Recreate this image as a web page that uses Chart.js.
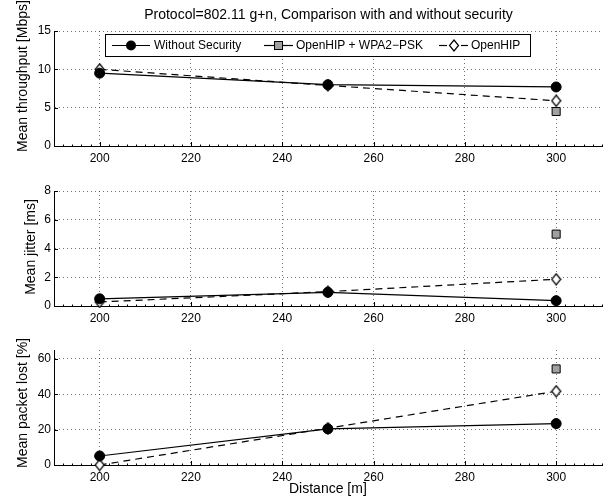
<!DOCTYPE html>
<html>
<head>
<meta charset="utf-8">
<script src="https://cdn.jsdelivr.net/npm/chart.js@4.4.0/dist/chart.umd.min.js"></script>
<style>
  body { margin: 0; background: #fff; width: 609px; height: 501px; overflow: hidden; position: relative;
         font-family: 'Liberation Sans', Arial, sans-serif; color: #000; }
  canvas { position: absolute; left: 0; }
  #title { position: absolute; left: 54px; width: 549px; top: 5px; text-align: center; font-size: 14px; line-height: 18px; }
  .ylab { position: absolute; font-size: 14px; line-height: 16px; white-space: nowrap;
          transform: translate(-50%, -50%) rotate(-90deg); }
  #legend { position: absolute; left: 105px; top: 34px; width: 426px; height: 23px; box-sizing: border-box;
            border: 1px solid #000; background: #fff; }
  #legend svg { position: absolute; left: -1px; top: -1px; }
  #legend span { position: absolute; top: 3px; font-size: 12px; line-height: 15px; white-space: nowrap; }
</style>
</head>
<body>
<canvas id="c1" width="609" height="165" style="top:0px"></canvas>
<canvas id="c2" width="609" height="165" style="top:160px"></canvas>
<canvas id="c3" width="609" height="182" style="top:319px"></canvas>
<div id="title">Protocol=802.11 g+n, Comparison with and without security</div>
<div class="ylab" style="left:22px; top:76px">Mean throughput [Mbps]</div>
<div class="ylab" style="left:30px; top:247px">Mean jitter [ms]</div>
<div class="ylab" style="left:22px; top:403px">Mean packet lost [%]</div>
<div id="legend">
  <svg width="426" height="23">
    <line x1="7" y1="11.5" x2="45" y2="11.5" stroke="#000" stroke-width="1.2"/>
    <circle cx="26" cy="11.5" r="5" fill="#000"/>
    <line x1="159" y1="11.5" x2="188" y2="11.5" stroke="#000" stroke-width="1.2"/>
    <rect x="169.5" y="7.5" width="8" height="8" fill="#a0a0a0" stroke="#000" stroke-width="1"/>
    <line x1="334" y1="11.5" x2="342" y2="11.5" stroke="#000" stroke-width="1.2"/>
    <line x1="356" y1="11.5" x2="363" y2="11.5" stroke="#000" stroke-width="1.2"/>
    <polygon points="349,6 353.5,11.5 349,17 344.5,11.5" fill="#fff" stroke="#000" stroke-width="1.2"/>
  </svg>
  <span style="left:48px">Without Security</span>
  <span style="left:190px">OpenHIP + WPA2−PSK</span>
  <span style="left:365px">OpenHIP</span>
</div>
<script>
// data
const distances = [200, 250, 300];
const xTicks = [200, 220, 240, 260, 280, 300];

const throughputWithout = [9.5, 8.0, 7.7];
const throughputWpa2 = [null, null, 4.5];
const throughputOpenhip = [10.0, 7.9, 5.9];
const throughputTicks = [0, 5, 10, 15];

const jitterWithout = [0.5, 0.95, 0.37];
const jitterWpa2 = [null, null, 5.0];
const jitterOpenhip = [0.28, 1.0, 1.86];
const jitterTicks = [0, 2, 4, 6, 8];

const lossWithout = [5.1, 20.4, 23.4];
const lossWpa2 = [null, null, 54.3];
const lossOpenhip = [0, 20.8, 41.7];
const lossTicks = [0, 20, 40, 60];

Chart.defaults.font.family = "'Liberation Sans', Arial, sans-serif";
Chart.defaults.color = '#000';

// tall white diamond marker like matlab's 'd'
const diamond = document.createElement('canvas');
diamond.width = 11;
diamond.height = 13;
(function () {
    const g = diamond.getContext('2d');
    g.beginPath();
    g.moveTo(5.5, 1);
    g.lineTo(10, 6.5);
    g.lineTo(5.5, 12);
    g.lineTo(1, 6.5);
    g.closePath();
    g.fillStyle = '#fff';
    g.fill();
    g.lineWidth = 1.2;
    g.strokeStyle = '#000';
    g.stroke();
})();

// small tick marks pointing into the plot
const inwardTicks = {
    id: 'inwardTicks',
    beforeDatasetsDraw(chart) {
        const ctx = chart.ctx;
        const x = chart.scales.x, y = chart.scales.y;
        const area = chart.chartArea;
        ctx.save();
        ctx.strokeStyle = '#000';
        ctx.lineWidth = 1;
        ctx.beginPath();
        for (let v = 190; v <= 310; v += 2) {
            const px = Math.round(x.getPixelForValue(v)) + 0.5;
            const len = xTicks.includes(v) ? 4 : 1.5;
            ctx.moveTo(px, area.bottom + 1);
            ctx.lineTo(px, area.bottom - len);
        }
        y.ticks.forEach(t => {
            const py = Math.round(y.getPixelForValue(t.value)) + 0.5;
            ctx.moveTo(area.left, py);
            ctx.lineTo(area.left + 4, py);
        });
        ctx.stroke();
        ctx.restore();
    }
};

function makeChart(id, yMax, yTicks, without, wpa2, openhip, opts) {
    const toPoints = arr => distances.map((d, i) => ({ x: d, y: arr[i] }));
    new Chart(document.getElementById(id), {
        type: 'line',
        data: {
            datasets: [
                {
                    label: 'Without Security',
                    data: toPoints(without),
                    borderColor: '#000',
                    borderWidth: 1.2,
                    pointStyle: 'circle',
                    pointRadius: 5,
                    pointBackgroundColor: '#000',
                    pointBorderColor: '#000',
                    pointBorderWidth: 1,
                    order: 1,
                    clip: false
                },
                {
                    label: 'OpenHIP + WPA2−PSK',
                    data: toPoints(wpa2),
                    borderColor: '#000',
                    borderWidth: 1.2,
                    pointStyle: 'rect',
                    pointRadius: 5.7,
                    pointBackgroundColor: '#a0a0a0',
                    pointBorderColor: '#000',
                    pointBorderWidth: 1,
                    order: 2,
                    clip: false
                },
                {
                    label: 'OpenHIP',
                    data: toPoints(openhip),
                    borderColor: '#000',
                    borderWidth: 1.2,
                    borderDash: [7, 5],
                    pointStyle: diamond,
                    pointRadius: 6,
                    order: 3,
                    clip: false
                }
            ]
        },
        options: {
            responsive: false,
            animation: false,
            devicePixelRatio: 1,
            layout: { padding: { top: 31, right: 6, left: 0, bottom: 0 } },
            plugins: { legend: { display: false }, tooltip: { enabled: false }, title: { display: false } },
            scales: {
                x: {
                    type: 'linear',
                    min: 190,
                    max: 310,
                    afterBuildTicks: s => { s.ticks = xTicks.map(v => ({ value: v })); },
                    afterFit: s => { s.height = opts.xHeight; },
                    ticks: { font: { size: 12 }, padding: 5, maxRotation: 0, autoSkip: false },
                    grid: { color: 'rgba(0,0,0,0.55)', lineWidth: 1, drawTicks: false },
                    border: { display: true, color: '#000', width: 1, dash: [1, 3] },
                    title: {
                        display: !!opts.xTitle,
                        text: opts.xTitle || '',
                        font: { size: 14 },
                        padding: { top: 0, bottom: 3 }
                    }
                },
                y: {
                    min: 0,
                    max: yMax,
                    afterBuildTicks: s => { s.ticks = yTicks.map(v => ({ value: v })); },
                    afterFit: s => { s.width = 54; },
                    ticks: { font: { size: 12 }, padding: 3 },
                    grid: { color: 'rgba(0,0,0,0.55)', lineWidth: 1, drawTicks: false },
                    border: { display: true, color: '#000', width: 1, dash: [1, 3] }
                }
            }
        },
        plugins: [inwardTicks]
    });
}

makeChart('c1', 15, throughputTicks, throughputWithout, throughputWpa2, throughputOpenhip, { xHeight: 19 });
makeChart('c2', 8, jitterTicks, jitterWithout, jitterWpa2, jitterOpenhip, { xHeight: 19 });
makeChart('c3', 65, lossTicks, lossWithout, lossWpa2, lossOpenhip, { xHeight: 36, xTitle: 'Distance [m]' });
</script>
</body>
</html>
